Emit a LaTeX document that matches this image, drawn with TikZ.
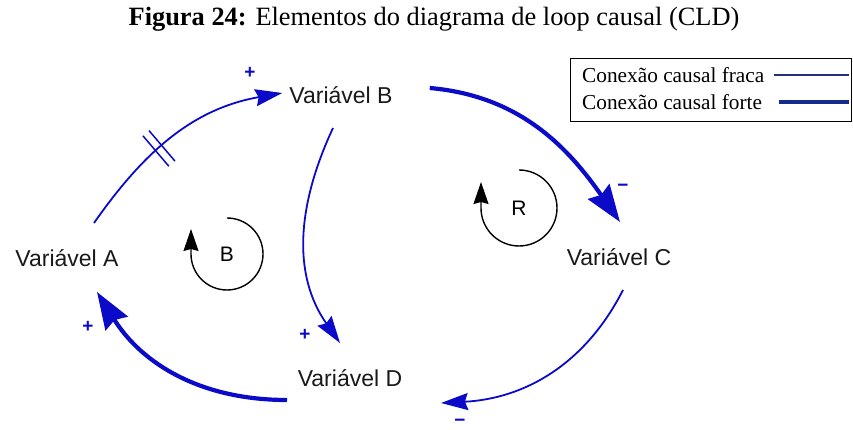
\documentclass[tikz,border=0pt]{standalone}
\usepackage{fontspec}
\setmainfont{Liberation Serif}
\newfontfamily\arialfont{Liberation Sans}
\usetikzlibrary{arrows.meta,positioning,calc,decorations.markings}
\definecolor{azul}{HTML}{0A0AC8}
\definecolor{marinho}{HTML}{23307A}
\definecolor{marinhoforte}{HTML}{142A8C}

\begin{document}
\begin{tikzpicture}[x=1pt, y=1pt,
  var/.style={font=\arialfont\fontsize{23}{27}\selectfont, inner sep=0pt, text=black!90},
  letra/.style={font=\arialfont\fontsize{21}{25}\selectfont, inner sep=0pt},
  sinal/.style={font=\arialfont\bfseries\fontsize{19}{19}\selectfont, inner sep=0pt, text=azul},
  fraca/.style={draw=azul, line width=1.8pt, -{Stealth[length=27pt,width=17pt,inset=3pt]}},
  forte/.style={draw=azul, line width=4.2pt, -{Stealth[length=37pt,width=26pt,inset=4pt]}},
  laco/.style={draw=black, line width=1.4pt, -{Stealth[length=22pt,width=15pt,inset=2pt]}},
  atraso/.style={postaction={decorate, decoration={markings,
    mark=at position 0.42 with {\draw[arrows=-, line width=1.5pt] (-4,-20) -- (-4,20) (4,-20) -- (4,20);}}}},
  leg/.style={font=\fontsize{21.3}{25}\selectfont, inner sep=0pt, anchor=west}
]
  \useasboundingbox (0,0) rectangle (853,430);

  % titulo
  \node[font=\fontsize{26.4}{31}\selectfont, inner sep=0pt] (titulo) at (434,411)
    {\textbf{Figura 24:} Elementos do diagrama de loop causal (CLD)};

  % variaveis
  \node[var] (va) at (67,172)  {Variável A};
  \node[var] (vb) at (341,335) {Variável B};
  \node[var] (vc) at (619,173) {Variável C};
  \node[var] (vd) at (350,52)  {Variável D};

  % conexoes
  \draw[fraca, atraso] ([shift={(27,35)}]va.center) to[out=55, in=190] ([shift={(-7,2)}]vb.west);
  \draw[forte] ([shift={(37,7)}]vb.east) to[out=-5, in=125] ([shift={(1,35)}]vc.center);
  \draw[fraca] ([shift={(-8,-33)}]vb.center) to[out=245, in=125] ([shift={(-10,35)}]vd.center);
  \draw[fraca] ([shift={(4,-33)}]vc.center) to[out=243, in=3] ([shift={(91,-25)}]vd.center);
  \draw[forte] ([shift={(-63,-22)}]vd.center) to[out=180, in=-58] ([shift={(30,-34)}]va.center);

  % polaridades
  \node[sinal] (s1) at (250,357) {+};
  \node[sinal] (s2) at (623,242) {−};
  \node[sinal] (s3) at (305,95)  {+};
  \node[sinal] (s4) at (460,7)   {−};
  \node[sinal] (s5) at (88,103)  {+};

  % lacos
  \node[letra] (lb) at (227,176) {B};
  \draw[laco] ([shift={(90:36)}]lb.center) arc[start angle=90, end angle=-180, radius=36] -- ++(0,25);
  \node[letra] (lr) at (519,222) {R};
  \draw[laco] ([shift={(90:38)}]lr.center) arc[start angle=90, end angle=-180, radius=38] -- ++(0,26);

  % legenda
  \node[draw, line width=0.9pt, minimum width=281, minimum height=63, inner sep=0pt, anchor=north west] (legenda) at (570,372) {};
  \node[leg] (lf) at (582,355) {Conexão causal fraca};
  \node[leg] (lt) at (582,328) {Conexão causal forte};
  \draw[marinho, line width=1.3pt] ([xshift=-78]legenda.east |- lf) -- ([xshift=-3]legenda.east |- lf);
  \draw[marinhoforte, line width=4pt] ([xshift=-73]legenda.east |- lt) -- ([xshift=-3]legenda.east |- lt);
\end{tikzpicture}
\end{document}
